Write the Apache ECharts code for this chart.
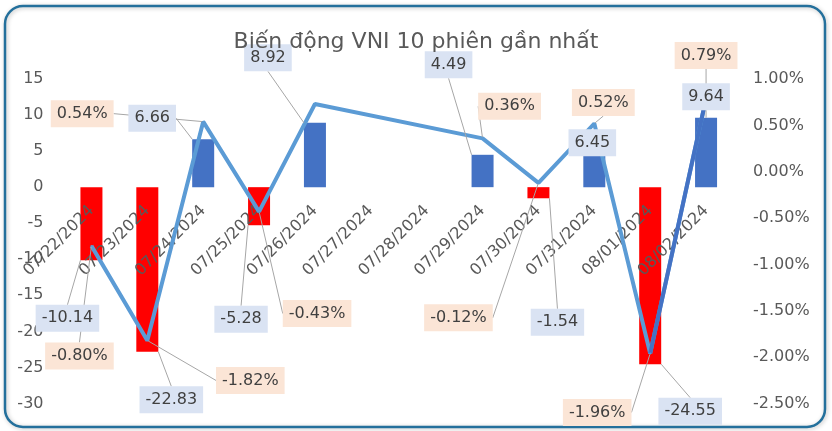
<!DOCTYPE html>
<html>
<head>
<meta charset="utf-8">
<script src="https://cdn.jsdelivr.net/npm/echarts@6/dist/echarts.min.js"></script>
<style>
  html, body { margin: 0; padding: 0; background: #fff; }
  #chart { width: 832px; height: 431px; }
</style>
</head>
<body>
<div id="chart"></div>
<script>
// dữ liệu 10 phiên
var dates = ['07/22/2024', '07/23/2024', '07/24/2024', '07/25/2024', '07/26/2024', '07/27/2024',
    '07/28/2024', '07/29/2024', '07/30/2024', '07/31/2024', '08/01/2024', '08/02/2024']
var pointChange = [-10.14, -22.83, 6.66, -5.28, 8.92, null, null, 4.49, -1.54, 6.45, -24.55, 9.64]
var pctChange = [-0.80, -1.82, 0.54, -0.43, 0.73, null, null, 0.36, -0.12, 0.52, -1.96, 0.79]
var hiddenPctLabels = ['07/26/2024']
var darkFrom = '08/01/2024'
var pointMin = -30
var pointMax = 15

// vị trí nhãn (lệch so với đầu cột / điểm)
var barLabelOffset = [[-24, 58], [24, 48], [-51, -21], [-18, 94], [-47, -65], null, null,
    [-34, -90], [19, 124], [-2, 2], [40, 47], [0, -21]]
var lineLabelOffset = [[-12, 110], [103, 40], [-121, -8], [58, 102], null, null, null,
    [27, -32], [-80, 135], [9, -21], [-53, 59], [0, -43]]

var font = 'DejaVu Sans'
var gridTop = 79
var gridBottom = 27.5
var chartH = 431
var myChart = echarts.init(document.getElementById('chart'))

var lineData = pctChange.map(function (v, i) {
    return { value: v, label: { show: hiddenPctLabels.indexOf(dates[i]) < 0 } }
})
var darkStart = dates.indexOf(darkFrom)
var lastSegment = pctChange.map(function (v, i) { return i >= darkStart ? v : null })
// đưa trục ngang lên mức 0 của trục trái
var zeroOffset = -(chartH - gridTop - gridBottom) * (0 - pointMin) / (pointMax - pointMin)

var labelBox = {
    show: true,
    padding: [6, 6, 5, 6],
    color: '#404040',
    fontSize: 16,
    fontFamily: font
}
var guide = { show: true, lineStyle: { color: '#a6a6a6', width: 1 } }

var option = {
    animation: false,
    textStyle: { fontFamily: font },
    title: {
        text: 'Biến động VNI 10 phiên gần nhất',
        left: 'center',
        top: 26,
        textStyle: { fontFamily: font, fontSize: 22, fontWeight: 'normal', color: '#595959' }
    },
    graphic: [{
        type: 'rect',
        silent: true,
        z: -1,
        shape: { x: 5, y: 6, width: 820, height: 421, r: 18 },
        style: {
            fill: 'none', stroke: '#24709c', lineWidth: 2.5,
            shadowBlur: 4, shadowColor: 'rgba(0,0,0,0.25)', shadowOffsetX: 1, shadowOffsetY: 1
        }
    }],
    grid: { left: 63.5, right: 98, top: gridTop, bottom: gridBottom, containLabel: false, outerBoundsMode: 'none' },
    xAxis: {
        type: 'category',
        data: dates,
        position: 'bottom',
        offset: zeroOffset,
        z: 2,
        axisLine: { show: false, onZero: false },
        axisTick: { show: false },
        axisLabel: { interval: 0, rotate: 45, margin: 21, fontSize: 16, color: '#595959', fontFamily: font }
    },
    yAxis: [{
        type: 'value',
        min: pointMin,
        max: pointMax,
        interval: 5,
        splitLine: { show: false },
        axisLabel: { fontSize: 16, color: '#595959', margin: 20, fontFamily: font }
    }, {
        type: 'value',
        min: -2.5,
        max: 1,
        interval: 0.5,
        splitLine: { show: false },
        axisLabel: {
            fontSize: 16, color: '#595959', margin: 19, fontFamily: font,
            formatter: function (v) { return v.toFixed(2) + '%' }
        }
    }],
    series: [{
        name: 'Điểm',
        type: 'bar',
        yAxisIndex: 0,
        barWidth: 22,
        z: 1,
        data: pointChange,
        itemStyle: {
            color: function (p) { return p.value >= 0 ? '#4472c4' : '#ff0000' }
        }
    }, {
        name: '%',
        type: 'line',
        yAxisIndex: 1,
        data: lineData,
        connectNulls: true,
        z: 3,
        symbol: 'circle',
        symbolSize: 2,
        itemStyle: { color: '#5b9bd5' },
        lineStyle: { width: 4, color: '#5b9bd5' },
        label: Object.assign({}, labelBox, {
            backgroundColor: '#fbe5d6',
            formatter: function (p) { return p.value.toFixed(2) + '%' }
        }),
        labelLine: guide,
        labelLayout: function (p) {
            var o = lineLabelOffset[p.dataIndex]
            if (!o) return {}
            var ax = p.rect.x + p.rect.width / 2
            var ay = p.rect.y + p.rect.height / 2
            return { x: ax + o[0], y: ay + o[1], align: 'center', verticalAlign: 'middle' }
        }
    }, {
        name: '%2',
        type: 'line',
        yAxisIndex: 1,
        data: lastSegment,
        z: 3,
        symbol: 'none',
        lineStyle: { width: 4, color: '#4472c4' },
        label: { show: false }
    }, {
        // nhãn điểm của cột, vẽ trên đường
        name: 'Điểm nhãn',
        type: 'bar',
        yAxisIndex: 0,
        barWidth: 22,
        barGap: '-100%',
        z: 4,
        data: pointChange,
        itemStyle: { color: 'rgba(0,0,0,0)' },
        label: Object.assign({}, labelBox, {
            position: 'inside',
            backgroundColor: '#dae3f3',
            formatter: function (p) { return p.value.toFixed(2) }
        }),
        labelLine: guide,
        labelLayout: function (p) {
            var o = barLabelOffset[p.dataIndex]
            if (!o) return {}
            var v = pointChange[p.dataIndex]
            var ax = p.rect.x + p.rect.width / 2
            var ay = v >= 0 ? p.rect.y : p.rect.y + p.rect.height
            return { x: ax + o[0], y: ay + o[1], align: 'center', verticalAlign: 'middle' }
        }
    }]
}
myChart.setOption(option)
</script>
</body>
</html>
